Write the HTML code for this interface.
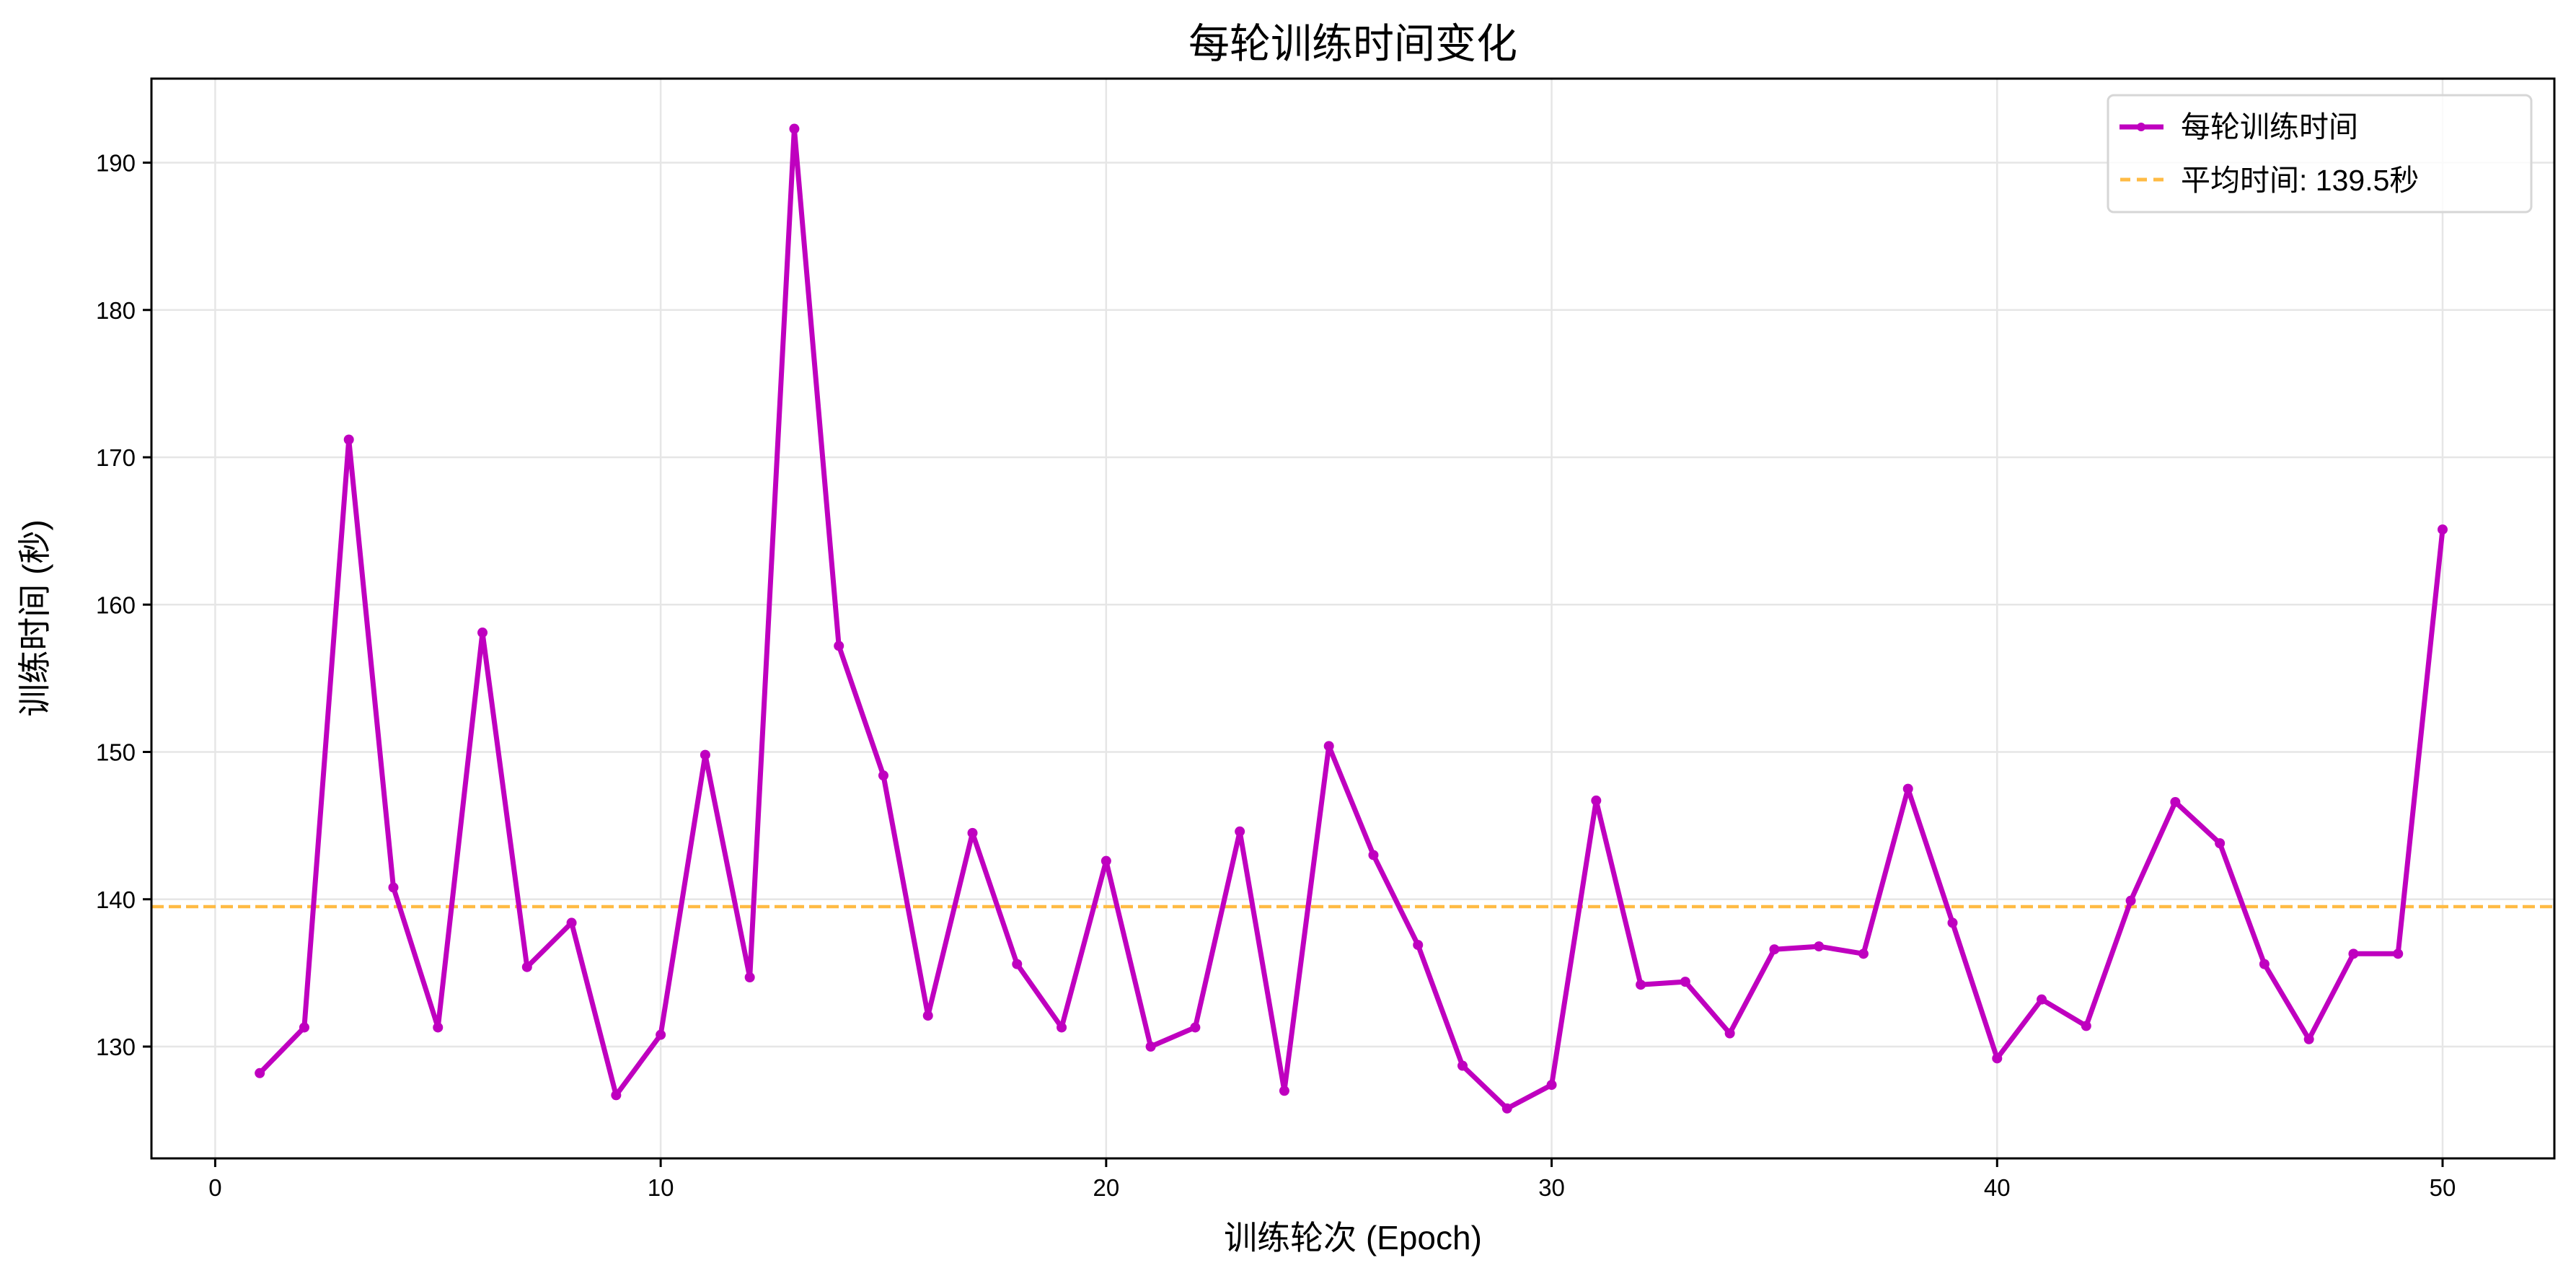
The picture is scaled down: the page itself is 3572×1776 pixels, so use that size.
<!DOCTYPE html>
<html><head><meta charset="utf-8"><style>
html,body{margin:0;padding:0;background:#fff;}
svg{display:block;font-family:"Liberation Sans","Noto Sans CJK SC",sans-serif;}
</style></head><body>
<svg id="chart" width="3572" height="1776" viewBox="0 0 3572 1776" xmlns="http://www.w3.org/2000/svg">
<rect width="3572" height="1776" fill="#fff"/>
<g id="grid"></g>
<g id="plot"></g>
<rect x="210" y="109" width="3332" height="1497" fill="none" stroke="#000" stroke-width="3"/>
<g id="ticks"></g>
<text x="1876" y="80" font-size="57" text-anchor="middle">每轮训练时间变化</text>
<text x="1876" y="1732" font-size="46" text-anchor="middle">训练轮次 (Epoch)</text>
<text x="0" y="0" font-size="46" text-anchor="middle" transform="translate(64,857) rotate(-90)">训练时间 (秒)</text>
<g>
<rect x="2923" y="132" width="587" height="162" rx="8" fill="#fff" fill-opacity="0.8" stroke="#d6d6d6" stroke-width="3"/>
<g>
<line x1="2939" y1="176" x2="3000" y2="176" stroke="#bf00bf" stroke-width="7"/>
<circle cx="2969" cy="176" r="6" fill="#bf00bf"/>
<text x="3024" y="190" font-size="41">每轮训练时间</text>
</g>
<g>
<line x1="2940" y1="249" x2="3000" y2="249" stroke="#ffbb44" stroke-width="5" stroke-dasharray="14,9"/>
<text x="3024" y="264" font-size="41">平均时间: 139.5秒</text>
</g>
</g>
</svg>
<script>
const epochs = [1,2,3,4,5,6,7,8,9,10,11,12,13,14,15,16,17,18,19,20,21,22,23,24,25,26,27,28,29,30,31,32,33,34,35,36,37,38,39,40,41,42,43,44,45,46,47,48,49,50];
const times = [128.2,131.3,171.2,140.8,131.3,158.1,135.4,138.4,126.7,130.8,149.8,134.7,192.3,157.2,148.4,132.1,144.5,135.6,131.3,142.6,130.0,131.3,144.6,127.0,150.4,143.0,136.9,128.7,125.8,127.4,146.7,134.2,134.4,130.9,136.6,136.8,136.3,147.5,138.4,129.2,133.2,131.4,139.9,146.6,143.8,135.6,130.5,136.3,136.3,165.1];
const meanTime = [139.5];
const xTicks = [0,10,20,30,40,50];
const yTicks = [130,140,150,160,170,180,190];

const NS = "http://www.w3.org/2000/svg";
const L=210,R=3542,T=109,B=1606;
function xs(v){return 298.4+(v-0)*(3387-298.4)/50;}
function ys(v){return 1451+(v-130)*(225.5-1451)/60;}
function mk(tag,attrs,parent){const e=document.createElementNS(NS,tag);for(const k in attrs)e.setAttribute(k,attrs[k]);parent.appendChild(e);return e;}
const grid=document.getElementById('grid'),plot=document.getElementById('plot'),ticks=document.getElementById('ticks');
xTicks.forEach(v=>{
  const g=mk('line',{x1:xs(v),x2:xs(v),y1:T,y2:B,stroke:'#e6e6e6','stroke-width':2.5},grid);
  
  
  const t=mk('line',{x1:xs(v),x2:xs(v),y1:B,y2:B+12,stroke:'#000','stroke-width':3},ticks);
  
  
  const l=mk('text',{x:xs(v),y:B+52,'font-size':33,'text-anchor':'middle'},ticks);
  l.textContent=v;
  
  
});
yTicks.forEach(v=>{
  const g=mk('line',{x1:L,x2:R,y1:ys(v),y2:ys(v),stroke:'#e6e6e6','stroke-width':2.5},grid);
  
  
  const t=mk('line',{x1:L-12,x2:L,y1:ys(v),y2:ys(v),stroke:'#000','stroke-width':3},ticks);
  
  
  const l=mk('text',{x:L-22,y:ys(v)+12,'font-size':33,'text-anchor':'end'},ticks);
  l.textContent=v;
  
  
});
const ml=mk('line',{x1:L,x2:R,y1:ys(meanTime[0]),y2:ys(meanTime[0]),stroke:'#ffbb44','stroke-width':4.5,'stroke-dasharray':'17,7'},plot);


const pts=epochs.map((e,i)=>xs(e).toFixed(1)+','+ys(times[i]).toFixed(1)).join(' ');
const pl=mk('polyline',{points:pts,fill:'none',stroke:'#bf00bf','stroke-width':7,'stroke-linejoin':'round'},plot);


epochs.forEach((e,i)=>{
  const c=mk('circle',{cx:xs(e),cy:ys(times[i]),r:7,fill:'#bf00bf'},plot);
  
  
});
</script>
</body></html>
